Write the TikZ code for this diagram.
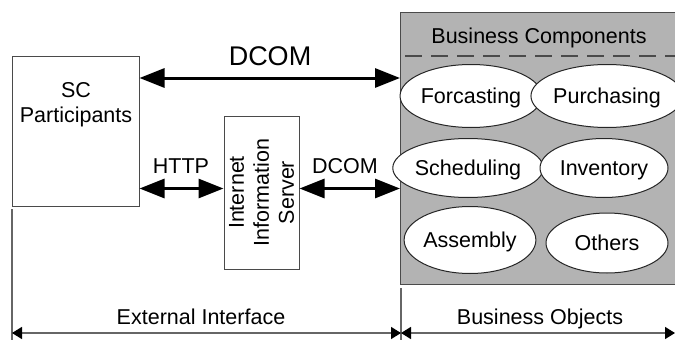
\documentclass[tikz,border=0pt]{standalone}
\usepackage{fontspec}
\setmainfont{Liberation Sans}
\usetikzlibrary{arrows.meta,shapes.geometric}
\definecolor{bcgray}{HTML}{B3B3B3}
\definecolor{edgegray}{HTML}{4A4A4A}
\tikzset{
  plainbox/.style={draw=edgegray, line width=1pt, inner sep=0pt},
  comp/.style={ellipse, draw=black!85, line width=1pt, fill=white, inner sep=0pt, text height=15pt, text depth=0pt, font=\fontsize{21.5}{25}\selectfont},
  bigarrow/.style={line width=3pt, {Triangle[length=25pt,width=19pt]}-{Triangle[length=25pt,width=19pt]}},
  dimarrow/.style={draw=black!60, line width=1.5pt, {Triangle[length=10pt,width=12pt,color=black]}-{Triangle[length=10pt,width=12pt,color=black]}},
  tickline/.style={draw=black!60, line width=1.5pt},
  txt/.style={font=\fontsize{21.5}{25}\selectfont, inner sep=0pt, anchor=base}
}
\begin{document}
\begin{tikzpicture}[x=1pt,y=-1pt]
\useasboundingbox (0,0) rectangle (675,340);
\clip (0,0) rectangle (675,340);
% boxes
\node[plainbox, minimum width=127pt, minimum height=150pt] (sc) at (75.5,131) {};
\node[txt, align=center] (sclab) at (76,122) {SC\\Participants};
\node[plainbox, fill=bcgray, minimum width=285pt, minimum height=272pt, anchor=north west] (bc) at (400,12) {};
\node[plainbox, minimum width=75pt, minimum height=153pt] (iis) at (261.5,192.5) {};
\node[rotate=90, align=center, inner sep=0pt, font=\fontsize{21.5}{25}\selectfont] (iislab) at (iis.center) {Internet\\Information\\Server};
% business components header
\draw[draw=edgegray, line width=1.1pt, dash pattern=on 17pt off 9pt, dash phase=21pt] (bc.west |- 0,56) coordinate (dl) -- (bc.east |- 0,56) coordinate (dr);
\node[txt] (bclab) at (539,43) {Business Components};
% components
\node[comp, minimum width=124pt, minimum height=63pt] (forc) at (471,96) {Forcasting};
\node[comp, minimum width=131pt, minimum height=63pt] (purch) at (607,96) {Purchasing};
\node[comp, minimum width=130pt, minimum height=59pt] (sched) at (468,168) {Scheduling};
\node[comp, minimum width=128pt, minimum height=59pt] (inv) at (604,168) {Inventory};
\node[comp, minimum width=125pt, minimum height=67pt] (assem) at (470,240) {Assembly};
\node[comp, minimum width=122pt, minimum height=60pt] (oth) at (607,243) {Others};
% arrows
\draw[bigarrow] (sc.east |- 0,78) -- (bc.west |- 0,78);
\node[txt, font=\fontsize{27}{30}\selectfont] (dcom1) at (270,65) {DCOM};
\draw[bigarrow] (sc.east |- 0,188.5) -- (iis.west |- 0,188.5);
\node[txt] (http) at (181,173) {HTTP};
\draw[bigarrow] (iis.east |- 0,188.5) -- (bc.west |- 0,188.5);
\node[txt] (dcom2) at (345,173) {DCOM};
% bottom dimension lines
\coordinate (bl) at (12,333);
\coordinate (bm) at (401,333);
\coordinate (br) at (675,333);
\coordinate (vl) at (12,209);
\coordinate (vlb) at (12,340);
\coordinate (vm) at (401,288);
\coordinate (vmb) at (401,340);
\draw[tickline] (vl) -- (vlb);
\draw[tickline] (vm) -- (vmb);
\draw[dimarrow] (bl) -- (bm);
\draw[dimarrow] (bm) -- (br);
\node[txt] (ext) at (201,324) {External Interface};
\node[txt] (bo) at (540,324) {Business Objects};
\end{tikzpicture}
\end{document}
